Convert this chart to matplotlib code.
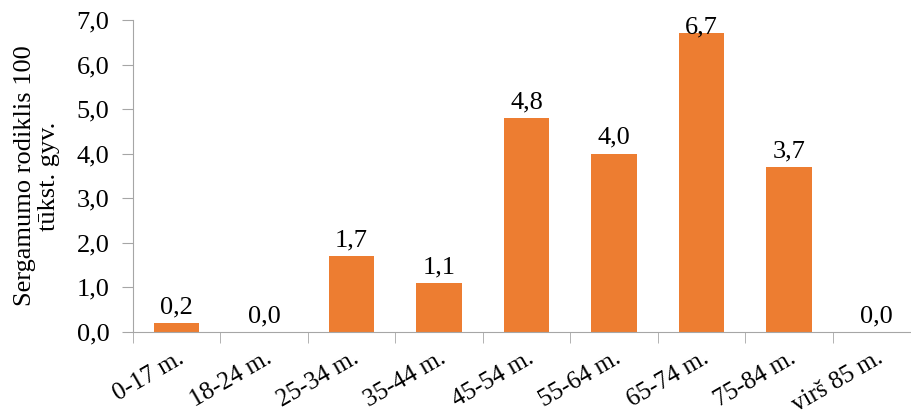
import matplotlib.pyplot as plt
import numpy as np

categories = ['0-17 m.', '18-24 m.', '25-34 m.', '35-44 m.', '45-54 m.',
              '55-64 m.', '65-74 m.', '75-84 m.', 'virš 85 m.']
values = [0.2, 0.0, 1.7, 1.1, 4.8, 4.0, 6.7, 3.7, 0.0]
yticks = [0, 1, 2, 3, 4, 5, 6, 7]

plt.rcParams['font.family'] = ['Liberation Serif', 'DejaVu Serif']
axis_grey = '#A6A6A6'


def fmt(v):
    return f'{v:.1f}'.replace('.', ',')


def main():
    fig = plt.figure(figsize=(9.12, 4.15), dpi=100)
    ax = fig.add_axes([133 / 912, 83 / 415, 787 / 912, 312 / 415])
    x = np.arange(len(categories))
    ax.bar(x, values, width=0.52, color='#ED7D31')
    # labels sit just above the bars, but are kept inside the plot area
    for xi, v in zip(x, values):
        ax.text(xi, min(v + 0.22, 6.7), fmt(v), ha='center', va='baseline',
                fontsize=19)

    ax.set_xlim(-0.5, len(categories) - 0.5)
    ax.set_ylim(0, 7)
    ax.set_yticks(yticks)
    ax.set_yticklabels([fmt(t) for t in yticks], fontsize=19)
    ax.set_xticks(x)
    ax.set_xticklabels(categories, fontsize=18, rotation=30, ha='right',
                       rotation_mode='anchor')
    ax.set_xticks(np.arange(len(categories) + 1) - 0.5, minor=True)
    ax.tick_params(axis='x', which='major', length=0, pad=11)
    ax.tick_params(axis='x', which='minor', length=8, color=axis_grey)
    ax.tick_params(axis='y', length=8, color=axis_grey, pad=9)

    for s in ['top', 'right']:
        ax.spines[s].set_visible(False)
    for s in ['left', 'bottom']:
        ax.spines[s].set_color(axis_grey)

    ax.set_ylabel('Sergamumo rodiklis 100\ntūkst. gyv.', fontsize=19,
                  linespacing=1.1, labelpad=12)
    fig.savefig('out.png', dpi=100)


main()
